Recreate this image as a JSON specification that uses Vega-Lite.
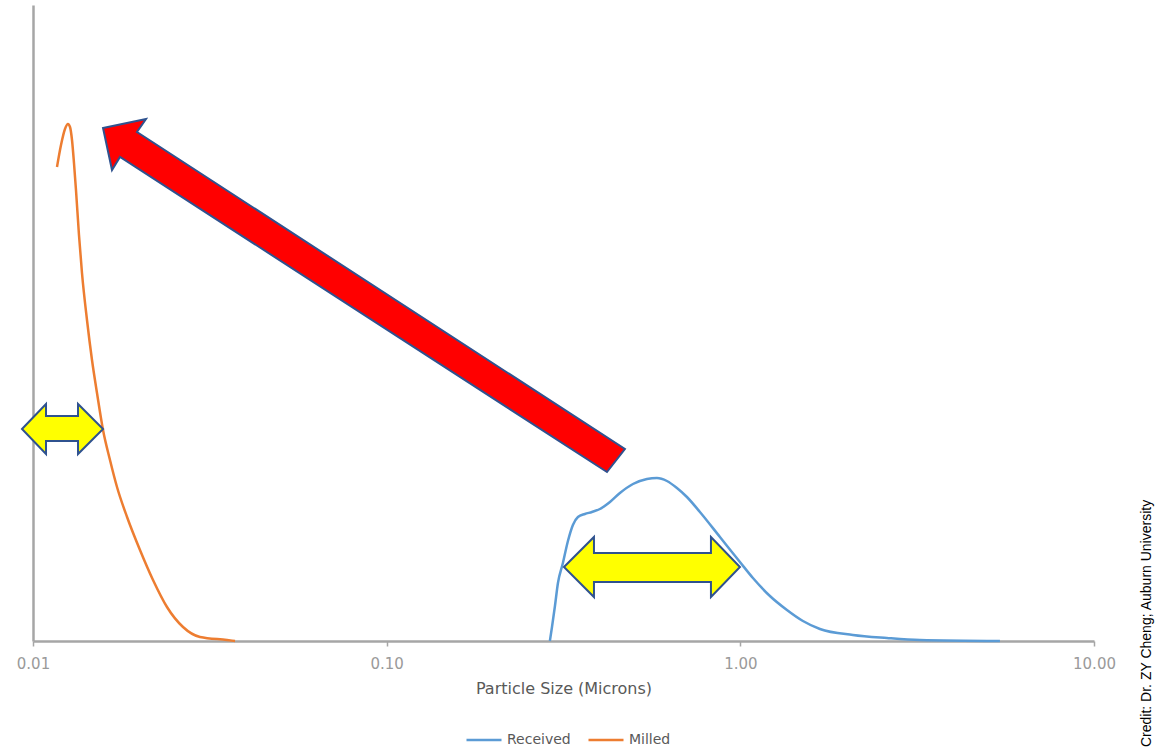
{
  "$schema": "https://vega.github.io/schema/vega-lite/v6.json",
  "width": 1061,
  "height": 636,
  "autosize": {"type": "none"},
  "padding": {"left": 33, "top": 5, "right": 61, "bottom": 108},
  "background": "white",
  "title": {
    "text": "Credit: Dr. ZY Cheng; Auburn University",
    "orient": "right",
    "anchor": "end",
    "frame": "bounds",
    "angle": -90,
    "align": "left",
    "font": "Liberation Sans",
    "fontSize": 14,
    "fontWeight": "normal",
    "color": "#000000",
    "offset": 11
  },
  "config": {
    "view": {"stroke": null},
    "font": "DejaVu Sans"
  },
  "layer": [
    {
      "data": {
        "values": [
          {"series": "Milled", "size": 0.011691, "value": 474},
          {"series": "Milled", "size": 0.012000, "value": 496},
          {"series": "Milled", "size": 0.012315, "value": 512},
          {"series": "Milled", "size": 0.012558, "value": 517},
          {"series": "Milled", "size": 0.012724, "value": 514},
          {"series": "Milled", "size": 0.012891, "value": 501},
          {"series": "Milled", "size": 0.013058, "value": 478},
          {"series": "Milled", "size": 0.013229, "value": 451},
          {"series": "Milled", "size": 0.013490, "value": 406},
          {"series": "Milled", "size": 0.013757, "value": 368},
          {"series": "Milled", "size": 0.014212, "value": 321},
          {"series": "Milled", "size": 0.014683, "value": 281},
          {"series": "Milled", "size": 0.015169, "value": 248},
          {"series": "Milled", "size": 0.015776, "value": 211},
          {"series": "Milled", "size": 0.016508, "value": 181},
          {"series": "Milled", "size": 0.017278, "value": 154},
          {"series": "Milled", "size": 0.018446, "value": 124},
          {"series": "Milled", "size": 0.020067, "value": 91},
          {"series": "Milled", "size": 0.021844, "value": 61},
          {"series": "Milled", "size": 0.023924, "value": 34},
          {"series": "Milled", "size": 0.026556, "value": 14},
          {"series": "Milled", "size": 0.029661, "value": 4},
          {"series": "Milled", "size": 0.035367, "value": 1},
          {"series": "Milled", "size": 0.037258, "value": 0},
          {"series": "Received", "size": 0.2894, "value": 0},
          {"series": "Received", "size": 0.2934, "value": 14},
          {"series": "Received", "size": 0.2991, "value": 35},
          {"series": "Received", "size": 0.3050, "value": 58},
          {"series": "Received", "size": 0.3150, "value": 78},
          {"series": "Received", "size": 0.3255, "value": 100},
          {"series": "Received", "size": 0.3362, "value": 116},
          {"series": "Received", "size": 0.3474, "value": 124},
          {"series": "Received", "size": 0.3636, "value": 127},
          {"series": "Received", "size": 0.3805, "value": 129},
          {"series": "Received", "size": 0.4009, "value": 132},
          {"series": "Received", "size": 0.4279, "value": 139},
          {"series": "Received", "size": 0.4566, "value": 148},
          {"series": "Received", "size": 0.4971, "value": 157},
          {"series": "Received", "size": 0.5444, "value": 162},
          {"series": "Received", "size": 0.5810, "value": 163},
          {"series": "Received", "size": 0.6201, "value": 160},
          {"series": "Received", "size": 0.6618, "value": 153},
          {"series": "Received", "size": 0.7063, "value": 144},
          {"series": "Received", "size": 0.7687, "value": 129},
          {"series": "Received", "size": 0.8757, "value": 104},
          {"series": "Received", "size": 0.9975, "value": 79},
          {"series": "Received", "size": 1.0855, "value": 63},
          {"series": "Received", "size": 1.2124, "value": 45},
          {"series": "Received", "size": 1.3545, "value": 31},
          {"series": "Received", "size": 1.5031, "value": 20},
          {"series": "Received", "size": 1.6792, "value": 12},
          {"series": "Received", "size": 2.0811, "value": 6},
          {"series": "Received", "size": 2.5967, "value": 3},
          {"series": "Received", "size": 3.2197, "value": 1},
          {"series": "Received", "size": 5.42, "value": 0}
        ]
      },
      "mark": {"type": "line", "interpolate": "monotone", "strokeWidth": 2.5, "clip": false},
      "encoding": {
        "x": {
          "field": "size",
          "type": "quantitative",
          "scale": {"type": "log", "domain": [0.01, 10], "nice": false},
          "axis": {
            "values": [0.01, 0.1, 1, 10],
            "format": ".2f",
            "grid": false,
            "domainColor": "#A6A6A6",
            "domainWidth": 2.5,
            "tickColor": "#A6A6A6",
            "tickSize": 5,
            "tickWidth": 1.5,
            "labelColor": "#9A9A9A",
            "labelFontSize": 15,
            "labelPadding": 10,
            "labelFlush": false,
            "title": "Particle Size (Microns)",
            "titleColor": "#595959",
            "titleFontSize": 16,
            "titleFontWeight": "normal",
            "titlePadding": 9
          }
        },
        "y": {
          "field": "value",
          "type": "quantitative",
          "scale": {"domain": [0, 636], "nice": false, "zero": true},
          "axis": {
            "labels": false,
            "ticks": false,
            "grid": false,
            "title": null,
            "domainColor": "#A6A6A6",
            "domainWidth": 2.5
          }
        },
        "color": {
          "field": "series",
          "type": "nominal",
          "scale": {"domain": ["Received", "Milled"], "range": ["#5B9BD5", "#ED7D31"]},
          "legend": {
            "title": null,
            "orient": "none",
            "legendX": 432,
            "legendY": 716,
            "direction": "horizontal",
            "symbolType": "stroke",
            "symbolSize": 1225,
            "symbolStrokeWidth": 2.5,
            "labelFontSize": 14,
            "labelColor": "#595959",
            "labelOffset": 4,
            "columnPadding": 12
          }
        }
      }
    },
    {
      "data": {
        "values": [
          {"idx": 0, "size": 0.015776, "value": 513},
          {"idx": 1, "size": 0.020868, "value": 522},
          {"idx": 2, "size": 0.019679, "value": 509},
          {"idx": 3, "size": 0.4717, "value": 192},
          {"idx": 4, "size": 0.4197, "value": 169},
          {"idx": 5, "size": 0.017620, "value": 484},
          {"idx": 6, "size": 0.016726, "value": 471}
        ]
      },
      "mark": {"type": "line", "interpolate": "linear-closed", "fill": "#FF0000", "stroke": "#2F528F", "strokeWidth": 2, "strokeJoin": "miter", "clip": false},
      "encoding": {
        "x": {"field": "size", "type": "quantitative"},
        "y": {"field": "value", "type": "quantitative"},
        "order": {"field": "idx", "type": "quantitative"}
      }
    },
    {
      "data": {
        "values": [
          {"arrow": "left", "idx": 0, "size": 0.009309, "value": 212},
          {"arrow": "left", "idx": 1, "size": 0.010884, "value": 237},
          {"arrow": "left", "idx": 2, "size": 0.010884, "value": 225},
          {"arrow": "left", "idx": 3, "size": 0.013406, "value": 225},
          {"arrow": "left", "idx": 4, "size": 0.013406, "value": 237},
          {"arrow": "left", "idx": 5, "size": 0.015776, "value": 212},
          {"arrow": "left", "idx": 6, "size": 0.013406, "value": 187},
          {"arrow": "left", "idx": 7, "size": 0.013406, "value": 200},
          {"arrow": "left", "idx": 8, "size": 0.010884, "value": 200},
          {"arrow": "left", "idx": 9, "size": 0.010884, "value": 187},
          {"arrow": "right", "idx": 0, "size": 0.3172, "value": 74},
          {"arrow": "right", "idx": 1, "size": 0.3856, "value": 104},
          {"arrow": "right", "idx": 2, "size": 0.3856, "value": 88},
          {"arrow": "right", "idx": 3, "size": 0.8259, "value": 88},
          {"arrow": "right", "idx": 4, "size": 0.8259, "value": 104},
          {"arrow": "right", "idx": 5, "size": 0.9975, "value": 74},
          {"arrow": "right", "idx": 6, "size": 0.8259, "value": 44},
          {"arrow": "right", "idx": 7, "size": 0.8259, "value": 59},
          {"arrow": "right", "idx": 8, "size": 0.3856, "value": 59},
          {"arrow": "right", "idx": 9, "size": 0.3856, "value": 44}
        ]
      },
      "mark": {"type": "line", "interpolate": "linear-closed", "fill": "#FFFF00", "stroke": "#2F528F", "strokeWidth": 2, "strokeJoin": "miter", "clip": false},
      "encoding": {
        "x": {"field": "size", "type": "quantitative"},
        "y": {"field": "value", "type": "quantitative"},
        "detail": {"field": "arrow", "type": "nominal"},
        "order": {"field": "idx", "type": "quantitative"}
      }
    }
  ]
}
